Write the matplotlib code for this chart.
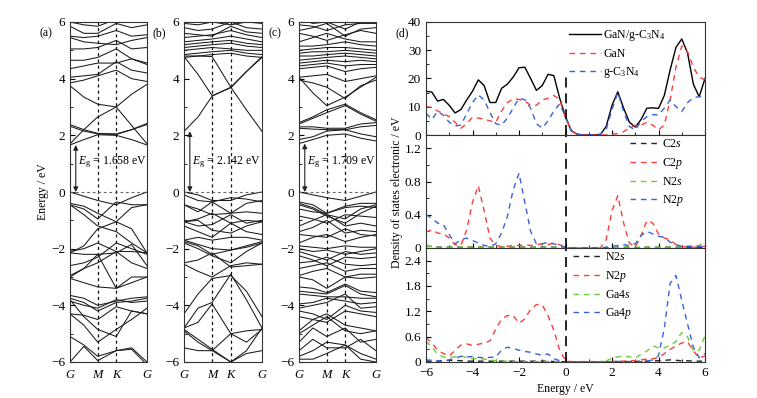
"""
Band structures of GaN, g-C3N4 and the GaN/g-C3N4 heterostructure,
plus total / projected density of states of the heterostructure.
"""

import matplotlib
matplotlib.use("Agg")
import matplotlib.pyplot as plt
from matplotlib.ticker import MultipleLocator
import numpy as np

plt.rcParams.update({
    "font.family": ["Liberation Serif", "DejaVu Serif"],
    "font.size": 8,
    "mathtext.fontset": "custom",
    "mathtext.rm": "Liberation Serif",
    "mathtext.it": "Liberation Serif:italic",
    "axes.linewidth": 0.8,
    "axes.edgecolor": "#333333",
})

# ---------------------------------------------------------------------------
# Band data: energies (eV) at G, mid G-M, M, K, mid K-G, G
# ---------------------------------------------------------------------------
kpath = [0.0, 0.18, 0.36, 0.60, 0.80, 1.0]
ktick_pos = [0.0, 0.36, 0.60, 1.0]
ktick_labels = ["G", "M", "K", "G"]

bands_a = [
    # conduction
    [1.66, 1.85, 2.02, 2.00, 1.85, 1.66],
    [2.38, 2.20, 2.07, 2.05, 2.20, 2.38],
    [2.32, 2.15, 2.05, 2.03, 2.20, 2.42],
    [1.70, 2.20, 2.65, 3.00, 3.45, 3.80],
    [3.75, 3.35, 3.10, 3.00, 2.35, 1.70],
    [3.85, 3.95, 4.10, 4.30, 4.00, 3.90],
    [4.05, 4.10, 4.15, 4.60, 4.30, 4.20],
    [4.35, 4.45, 4.55, 4.55, 4.70, 4.50],
    [4.65, 4.65, 4.75, 5.05, 4.70, 4.55],
    [5.05, 5.05, 5.10, 5.35, 5.05, 5.10],
    [5.45, 5.30, 5.25, 5.20, 5.35, 5.45],
    [5.50, 5.45, 5.50, 5.70, 5.50, 5.55],
    [5.85, 5.60, 5.60, 5.95, 5.80, 5.90],
    [6.00, 5.90, 5.85, 6.10, 6.00, 6.00],
    # valence
    [0.00, -0.15, -0.30, -0.45, -0.20, 0.00],
    [-0.40, -0.50, -0.75, -1.05, -0.55, -0.45],
    [-0.45, -0.60, -0.95, -0.35, -0.45, -0.45],
    [-0.45, -0.80, -1.20, -1.40, -1.80, -2.15],
    [-2.15, -1.90, -1.30, -1.05, -1.30, -2.15],
    [-2.10, -2.00, -1.80, -2.10, -2.10, -2.15],
    [-2.15, -2.20, -2.20, -2.15, -1.85, -2.60],
    [-2.60, -2.50, -2.30, -1.80, -2.00, -2.20],
    [-2.95, -2.70, -2.50, -2.10, -2.50, -2.70],
    [-3.00, -2.70, -2.20, -3.40, -3.20, -3.00],
    [-3.05, -3.20, -3.35, -3.40, -3.00, -3.00],
    [-3.65, -3.75, -4.00, -3.85, -3.75, -3.70],
    [-3.75, -3.90, -4.20, -3.90, -3.85, -3.75],
    [-3.85, -4.00, -4.10, -3.80, -3.90, -3.85],
    [-4.30, -4.35, -4.50, -4.05, -4.20, -4.30],
    [-3.80, -4.40, -4.85, -5.10, -4.20, -4.30],
    [-4.30, -4.70, -5.30, -4.85, -4.50, -4.10],
    [-5.10, -5.40, -5.80, -5.60, -5.50, -6.00],
    [-6.00, -5.45, -5.95, -5.60, -5.55, -6.10],
]

bands_b = [
    # conduction
    [2.14, 2.65, 3.38, 3.70, 4.25, 4.75],
    [4.78, 4.15, 3.40, 3.68, 4.25, 4.78],
    [4.80, 4.80, 4.78, 3.70, 2.90, 2.14],
    [4.75, 4.80, 4.85, 4.90, 4.80, 4.75],
    [4.85, 4.90, 4.95, 5.00, 4.90, 4.85],
    [5.00, 5.05, 5.10, 5.05, 5.00, 5.00],
    [5.10, 5.15, 5.20, 5.25, 5.15, 5.10],
    [5.20, 5.25, 5.30, 5.35, 5.25, 5.20],
    [5.30, 5.35, 5.40, 5.50, 5.40, 5.30],
    [5.45, 5.50, 5.55, 5.70, 5.55, 5.45],
    [5.60, 5.55, 5.50, 5.85, 5.65, 5.60],
    [5.80, 5.70, 5.75, 6.00, 5.80, 5.75],
    [5.95, 5.90, 6.00, 5.90, 6.00, 5.95],
    # valence
    [0.00, -0.10, -0.30, -0.30, -0.10, 0.00],
    [-0.10, -0.30, -0.35, -0.75, -0.40, -0.30],
    [-0.45, -0.70, -0.35, -0.20, -0.25, -0.35],
    [-0.45, -0.60, -0.80, -0.75, -0.70, -0.75],
    [-1.05, -0.95, -0.75, -1.10, -1.00, -1.05],
    [-1.05, -1.20, -1.15, -0.80, -1.10, -1.00],
    [-1.05, -1.00, -1.35, -1.45, -1.20, -1.05],
    [-1.20, -1.40, -1.60, -1.10, -1.40, -1.50],
    [-1.70, -1.60, -1.70, -1.60, -1.60, -1.70],
    [-1.70, -1.85, -2.00, -2.05, -1.90, -1.75],
    [-1.75, -1.90, -2.20, -2.05, -1.95, -1.80],
    [-1.80, -2.00, -2.25, -2.50, -2.10, -1.80],
    [-2.50, -2.40, -2.15, -2.65, -2.60, -2.55],
    [-2.55, -2.80, -3.00, -2.60, -2.50, -2.55],
    [-4.30, -3.60, -3.05, -2.95, -3.50, -4.40],
    [-4.80, -4.10, -3.90, -2.90, -3.80, -4.80],
    [-4.80, -4.60, -3.95, -5.00, -5.30, -4.85],
    [-4.85, -5.20, -5.55, -6.00, -5.60, -4.80],
    [-4.90, -5.30, -5.60, -5.00, -4.90, -4.85],
    [-5.50, -5.60, -5.60, -6.00, -5.70, -5.60],
]

bands_c = [
    # conduction
    [1.71, 1.85, 2.00, 2.05, 1.90, 1.80],
    [1.85, 1.95, 2.15, 2.20, 2.05, 1.95],
    [2.25, 2.22, 2.20, 2.20, 2.30, 2.35],
    [2.30, 2.30, 2.25, 2.25, 2.40, 2.45],
    [2.40, 2.60, 2.80, 3.05, 2.75, 2.50],
    [2.45, 2.65, 2.90, 3.10, 2.80, 2.55],
    [4.05, 3.50, 3.05, 3.35, 3.70, 4.05],
    [3.95, 3.85, 3.70, 3.30, 3.75, 3.95],
    [4.05, 4.10, 4.15, 3.90, 4.00, 4.10],
    [4.35, 4.40, 4.45, 4.25, 4.35, 4.40],
    [4.45, 4.50, 4.55, 4.45, 4.50, 4.50],
    [4.55, 4.60, 4.65, 4.60, 4.65, 4.60],
    [4.65, 4.70, 4.75, 4.80, 4.75, 4.70],
    [4.80, 4.80, 4.85, 4.90, 4.85, 4.80],
    [4.90, 4.95, 4.95, 5.00, 4.95, 4.90],
    [5.00, 5.05, 5.10, 5.10, 5.05, 5.00],
    [5.15, 5.15, 5.20, 5.30, 5.20, 5.15],
    [5.30, 5.45, 5.60, 5.40, 5.30, 5.30],
    [5.60, 5.50, 5.35, 5.55, 5.70, 5.60],
    [5.70, 5.80, 5.95, 5.50, 5.75, 5.80],
    [5.90, 5.85, 5.70, 5.90, 5.95, 5.95],
    [6.10, 5.95, 6.00, 5.75, 6.00, 6.10],
    # valence
    [0.00, -0.10, -0.20, -0.30, -0.15, 0.00],
    [-0.35, -0.45, -0.75, -0.50, -0.40, -0.40],
    [-0.40, -0.55, -0.80, -0.95, -0.60, -0.45],
    [-0.45, -0.60, -0.85, -1.10, -0.75, -0.50],
    [-0.60, -0.70, -0.75, -0.55, -0.50, -0.55],
    [-0.85, -0.95, -1.10, -0.80, -0.85, -0.90],
    [-1.20, -1.00, -0.80, -1.20, -1.10, -1.20],
    [-1.40, -1.25, -1.00, -1.45, -1.35, -1.40],
    [-1.50, -1.55, -1.60, -1.30, -1.50, -1.55],
    [-1.80, -1.60, -1.50, -1.75, -1.60, -1.50],
    [-1.90, -1.95, -2.00, -1.90, -1.95, -1.95],
    [-2.00, -2.10, -2.05, -2.20, -2.10, -2.00],
    [-2.10, -2.25, -2.40, -2.10, -2.20, -2.15],
    [-2.25, -2.40, -2.60, -2.30, -2.35, -2.30],
    [-2.50, -2.45, -2.30, -2.55, -2.60, -2.55],
    [-2.70, -2.60, -2.50, -2.80, -2.70, -2.70],
    [-2.95, -2.80, -2.70, -3.00, -2.90, -2.90],
    [-3.00, -3.10, -3.40, -3.00, -3.05, -3.00],
    [-3.35, -3.40, -3.55, -3.25, -3.50, -3.55],
    [-3.50, -3.55, -3.60, -3.30, -3.60, -3.70],
    [-3.60, -3.65, -3.70, -3.70, -3.75, -3.75],
    [-3.95, -3.90, -3.75, -3.85, -3.95, -3.90],
    [-4.10, -4.00, -3.90, -3.60, -4.10, -4.05],
    [-4.20, -4.30, -4.50, -4.00, -4.20, -4.25],
    [-4.40, -4.50, -4.60, -4.20, -4.30, -4.40],
    [-4.90, -4.50, -4.30, -4.70, -4.80, -4.90],
    [-5.00, -4.70, -4.40, -4.90, -5.00, -4.90],
    [-5.30, -4.80, -5.10, -4.80, -5.30, -5.20],
    [-5.60, -5.20, -5.50, -5.50, -5.20, -5.60],
    [-5.80, -5.60, -5.30, -5.40, -5.70, -5.90],
    [-5.90, -5.90, -5.70, -5.40, -5.90, -6.00],
]

band_panels = ["(a)", "(b)", "(c)"]
gaps = [1.658, 2.142, 1.709]

# ---------------------------------------------------------------------------
# DOS data on a 0.25 eV grid from -6 to 6 eV
# ---------------------------------------------------------------------------
energy = np.linspace(-6, 6, 49)

dos_total = [15.5, 15.2, 12.0, 12.6, 10.5, 7.8, 9.0, 12.4, 15.5, 19.5, 17.5, 11.5, 11.5,
             16.5, 18.0, 20.5, 23.8, 24.0, 20.0, 15.8, 17.5, 21.5, 21.0, 13.0, 6.5,
             1.5, 0.3, 0.0, 0.0, 0.0, 0.2, 3.0, 10.5, 15.3, 9.5, 4.5, 2.8, 5.5, 9.5,
             9.6, 9.4, 14.0, 23.0, 31.0, 34.0, 29.0, 18.0, 13.5, 20.0]
dos_gan = [10.0, 9.8, 8.5, 7.5, 6.5, 4.5, 2.4, 4.0, 6.3, 6.0, 5.6, 5.0, 4.5,
           8.5, 11.5, 12.8, 12.6, 12.0, 10.5, 10.5, 12.4, 13.0, 14.0, 12.5, 6.0,
           1.5, 0.3, 0.0, 0.0, 0.0, 0.0, 0.0, 0.3, 0.5, 1.2, 2.5, 3.4, 3.5, 4.5,
           3.5, 1.8, 3.5, 12.4, 24.0, 31.5, 29.5, 24.0, 20.5, 19.5]
dos_cn = [7.7, 5.5, 8.3, 7.0, 4.5, 3.2, 3.5, 7.5, 11.5, 14.2, 12.4, 8.0, 4.0,
          3.5, 6.0, 9.5, 13.0, 12.5, 9.5, 4.0, 2.4, 5.0, 8.5, 11.0, 6.5,
          1.5, 0.3, 0.0, 0.0, 0.0, 0.3, 2.0, 9.0, 15.0, 8.3, 3.0, 1.8, 4.8, 6.5,
          7.2, 7.1, 9.5, 12.4, 10.0, 8.3, 11.5, 13.2, 13.6, 13.6]

c2s = [0.02, 0.02, 0.01, 0.01, 0.01, 0.01, 0.01, 0.01, 0.01, 0.01, 0.01, 0.01, 0.01,
       0.01, 0.01, 0.01, 0.01, 0.01, 0.01, 0.01, 0.01, 0.01, 0.01, 0.01, 0.0,
       0.0, 0.0, 0.0, 0.0, 0.0, 0.0, 0.0, 0.0, 0.01, 0.01, 0.01, 0.0, 0.01, 0.01,
       0.01, 0.01, 0.01, 0.01, 0.01, 0.01, 0.01, 0.01, 0.01, 0.01]
c2p = [0.19, 0.22, 0.18, 0.17, 0.12, 0.04, 0.03, 0.22, 0.55, 0.75, 0.45, 0.12, 0.03,
       0.02, 0.02, 0.03, 0.03, 0.04, 0.03, 0.04, 0.05, 0.04, 0.06, 0.04, 0.01,
       0.0, 0.0, 0.0, 0.0, 0.0, 0.0, 0.1, 0.45, 0.63, 0.3, 0.06, 0.01, 0.15, 0.33,
       0.3, 0.17, 0.12, 0.1, 0.04, 0.02, 0.01, 0.01, 0.01, 0.02]
n2s_c = [0.02, 0.02, 0.01, 0.01, 0.01, 0.01, 0.01, 0.01, 0.01, 0.01, 0.01, 0.01, 0.01,
         0.01, 0.01, 0.01, 0.01, 0.01, 0.01, 0.01, 0.01, 0.01, 0.01, 0.01, 0.0,
         0.0, 0.0, 0.0, 0.0, 0.0, 0.0, 0.0, 0.0, 0.01, 0.01, 0.01, 0.01, 0.01, 0.01,
         0.01, 0.01, 0.01, 0.01, 0.01, 0.01, 0.02, 0.02, 0.03, 0.08]
n2p_c = [0.40, 0.36, 0.30, 0.28, 0.16, 0.05, 0.10, 0.12, 0.09, 0.06, 0.03, 0.02, 0.05,
         0.18, 0.38, 0.70, 0.90, 0.55, 0.20, 0.05, 0.05, 0.07, 0.05, 0.03, 0.01,
         0.0, 0.0, 0.0, 0.0, 0.0, 0.0, 0.01, 0.02, 0.03, 0.04, 0.03, 0.05, 0.15, 0.2,
         0.17, 0.14, 0.13, 0.07, 0.04, 0.02, 0.02, 0.02, 0.02, 0.02]

n2s_g = [0.02, 0.02, 0.02, 0.03, 0.04, 0.04, 0.03, 0.02, 0.02, 0.02, 0.02, 0.02, 0.02,
         0.02, 0.02, 0.02, 0.02, 0.02, 0.02, 0.02, 0.02, 0.02, 0.01, 0.01, 0.0,
         0.0, 0.0, 0.0, 0.0, 0.0, 0.0, 0.0, 0.01, 0.01, 0.01, 0.01, 0.01, 0.02, 0.02,
         0.03, 0.03, 0.04, 0.05, 0.04, 0.03, 0.03, 0.02, 0.02, 0.02]
n2p_g = [0.58, 0.45, 0.28, 0.20, 0.14, 0.28, 0.40, 0.43, 0.39, 0.42, 0.45, 0.50, 0.78,
         1.02, 1.10, 1.10, 0.92, 1.02, 1.25, 1.36, 1.35, 1.10, 0.75, 0.28, 0.03,
         0.01, 0.01, 0.01, 0.01, 0.01, 0.01, 0.01, 0.01, 0.02, 0.02, 0.03, 0.03, 0.05, 0.07,
         0.08, 0.10, 0.20, 0.30, 0.38, 0.45, 0.48, 0.26, 0.10, 0.14]
ga4s = [0.50, 0.35, 0.19, 0.12, 0.11, 0.12, 0.15, 0.10, 0.08, 0.08, 0.07, 0.05, 0.03,
        0.02, 0.02, 0.01, 0.01, 0.01, 0.01, 0.01, 0.01, 0.01, 0.01, 0.01, 0.0,
        0.0, 0.0, 0.0, 0.0, 0.0, 0.0, 0.02, 0.10, 0.12, 0.14, 0.12, 0.10, 0.18, 0.26,
        0.38, 0.34, 0.33, 0.40, 0.48, 0.70, 0.60, 0.26, 0.28, 0.62]
ga4p = [0.05, 0.04, 0.03, 0.03, 0.05, 0.10, 0.13, 0.12, 0.13, 0.11, 0.10, 0.11, 0.12,
        0.28, 0.35, 0.32, 0.28, 0.25, 0.23, 0.19, 0.16, 0.19, 0.08, 0.03, 0.01,
        0.0, 0.0, 0.0, 0.0, 0.0, 0.0, 0.0, 0.01, 0.01, 0.01, 0.01, 0.01, 0.01, 0.02,
        0.05, 0.15, 0.80, 1.86, 2.05, 1.46, 0.90, 0.35, 0.10, 0.20]

RED = "#ff3b3b"
BLUE = "#3a62d6"
GREEN = "#6ccc3a"
DASH = (0, (4, 3.5))

W, H = 757, 398


def px_box(x0, y0, x1, y1):
    """Pixel box (top-left origin) -> figure fraction rect."""
    return [x0 / W, 1 - y1 / H, (x1 - x0) / W, (y1 - y0) / H]


def draw_bands(ax, bands, label, gap):
    for b in bands:
        ax.plot(kpath, b, color="#1a1a1a", lw=0.75)
    for k in ktick_pos[1:3]:
        ax.axvline(k, color="#111111", lw=0.9, ls=(0, (2.5, 2.5)))
    ax.axhline(0, color="#666666", lw=0.8, ls=(0, (2.5, 2.5)))
    ax.set_xlim(0, 1)
    ax.set_ylim(-6, 6)
    ax.set_xticks(ktick_pos)
    ax.set_xticklabels(ktick_labels, style="italic", fontsize=9)
    ax.tick_params(axis="x", length=0, pad=5)
    ax.yaxis.set_major_locator(MultipleLocator(2))
    ax.yaxis.set_minor_locator(MultipleLocator(1))
    ax.tick_params(axis="y", which="both", direction="in", labelsize=9.5)
    ax.tick_params(axis="y", which="major", length=3.5)
    ax.tick_params(axis="y", which="minor", length=2)
    ax.annotate("", xy=(0.075, 0), xytext=(0.075, gap),
                xycoords=("axes fraction", "data"),
                arrowprops=dict(arrowstyle="<|-|>", color="#222222", lw=0.8,
                                mutation_scale=7, shrinkA=0, shrinkB=0))
    ax.text(0.10, 1.05, rf"$E_{{\rm g}}$ = {gap:.3f} eV", transform=ax.get_yaxis_transform(),
            fontsize=8.5, va="center", ha="left")
    ax.text(-0.40, 0.968, label, transform=ax.transAxes, fontsize=8.5, va="center")


fig = plt.figure(figsize=(W / 100, H / 100), dpi=100)

band_boxes = [(70, 22, 147, 362), (184, 22, 262, 362), (299, 22, 376, 362)]
for box, bands, label, gap in zip(band_boxes, [bands_a, bands_b, bands_c], band_panels, gaps):
    ax = fig.add_axes(px_box(*box))
    draw_bands(ax, bands, label, gap)

fig.text(43 / W, 1 - 192 / H, "Energy / eV", rotation=90, va="center", ha="center", fontsize=8.5)

# ---------------------------------------------------------------------------
# DOS panels
# ---------------------------------------------------------------------------
ax_t = fig.add_axes(px_box(426, 22, 705, 135))
ax_m = fig.add_axes(px_box(426, 135, 705, 248))
ax_b = fig.add_axes(px_box(426, 248, 705, 362))

ax_t.plot(energy, dos_total, color="black", lw=1.0, label=r"GaN/g-C$_3$N$_4$")
ax_t.plot(energy, dos_gan, color=RED, lw=1.0, ls=DASH, label="GaN")
ax_t.plot(energy, dos_cn, color=BLUE, lw=1.0, ls=DASH, label=r"g-C$_3$N$_4$")

ax_m.plot(energy, c2s, color="#222222", lw=1.0, ls=DASH, label=r"C2$s$")
ax_m.plot(energy, c2p, color=RED, lw=1.0, ls=DASH, label=r"C2$p$")
ax_m.plot(energy, n2s_c, color=GREEN, lw=1.0, ls=DASH, label=r"N2$s$")
ax_m.plot(energy, n2p_c, color=BLUE, lw=1.0, ls=DASH, label=r"N2$p$")

ax_b.plot(energy, n2s_g, color="#222222", lw=1.0, ls=DASH, label=r"N2$s$")
ax_b.plot(energy, n2p_g, color=RED, lw=1.0, ls=DASH, label=r"N2$p$")
ax_b.plot(energy, ga4s, color=GREEN, lw=1.0, ls=DASH, label=r"Ga4$s$")
ax_b.plot(energy, ga4p, color=BLUE, lw=1.0, ls=DASH, label=r"Ga4$p$")

ylims = [(0, 40), (0, 1.36), (0, 2.7)]
majors = [10, 0.4, 0.6]
minors = [5, 0.2, 0.3]
for ax, yl, mj, mn in zip([ax_t, ax_m, ax_b], ylims, majors, minors):
    ax.set_xlim(-6, 6)
    ax.set_ylim(*yl)
    ax.xaxis.set_major_locator(MultipleLocator(2))
    ax.xaxis.set_minor_locator(MultipleLocator(1))
    ax.yaxis.set_major_locator(MultipleLocator(mj))
    ax.yaxis.set_minor_locator(MultipleLocator(mn))
    ax.yaxis.set_major_formatter(plt.FuncFormatter(lambda v, p: f"{v:g}"))
    ax.tick_params(which="both", direction="in", labelsize=9.5)
    ax.tick_params(which="major", length=3.5)
    ax.tick_params(which="minor", length=2)
    ax.axvline(0, ymax=0.53 if ax is ax_t else 1, color="black", lw=1.2, ls=(0, (6, 3.5)))

ax_t.tick_params(labelbottom=False)
ax_m.tick_params(labelbottom=False)
ax_b.set_xlabel("Energy / eV", fontsize=8.5, labelpad=3)

leg_kw = dict(frameon=False, loc="upper left", borderpad=0, borderaxespad=0,
              handletextpad=0.2, fontsize=8.5, labelspacing=0.45)
ax_t.legend(bbox_to_anchor=(0.513, 0.95), handlelength=2.7, **leg_kw)
ax_m.legend(bbox_to_anchor=(0.731, 0.97), handlelength=2.5, **leg_kw)
ax_b.legend(bbox_to_anchor=(0.527, 0.97), handlelength=2.5, **leg_kw)

ax_t.text(-0.11, 0.90, "(d)", transform=ax_t.transAxes, fontsize=8.5, va="center")
fig.text(397 / W, 1 - 192 / H, "Density of states electronic / eV", rotation=90,
         va="center", ha="center", fontsize=8.5)

fig.savefig("out.png", dpi=100)
